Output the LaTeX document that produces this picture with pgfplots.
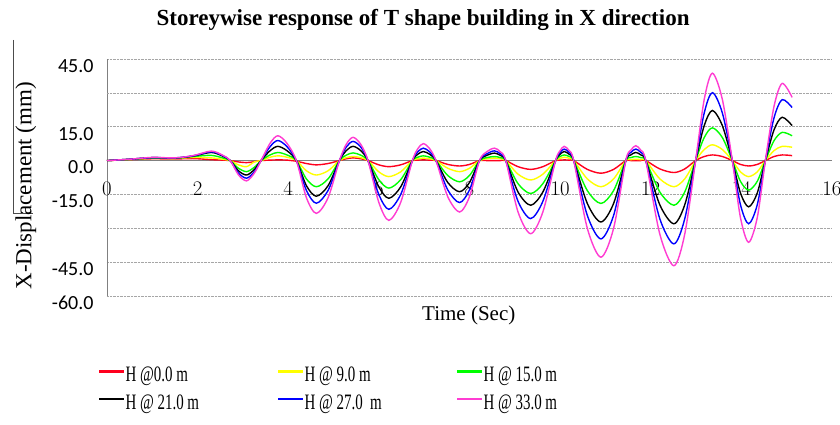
\documentclass[border=0pt]{standalone}
\usepackage{pgfplots}
\pgfplotsset{compat=1.18}
\usepackage{pgfplotstable}
\usepackage{fontspec}
\setmainfont{Liberation Serif}
\newfontfamily\calibri{Carlito}
\newfontfamily\legfont[FakeStretch=0.68]{Liberation Serif}
\definecolor{cRed}{RGB}{255,0,30}
\definecolor{cYel}{RGB}{255,255,0}
\definecolor{cGrn}{RGB}{0,255,0}
\definecolor{cBlk}{RGB}{0,0,0}
\definecolor{cBlu}{RGB}{0,0,255}
\definecolor{cMag}{RGB}{255,60,210}

\pgfplotstableread{
t     r     y     g     k     b     m
0.00  0.0   0.0   0.0   0.0   0.0   0.0
0.50  0.4   0.5   0.5   0.6   0.6   0.6
1.00  0.8   1.0   1.1   1.3   1.3   1.4
1.50  0.7   0.9   1.0   1.1   1.2   1.2
1.90  0.9   1.4   1.8   2.0   2.1   2.2
2.30  0.4   1.2   2.3   3.6   3.9   4.2
2.55  0.2   0.6   1.2   2.0   2.2   2.4
2.72  0.0   0.0   0.0   0.0   0.0   0.0
2.90 -0.6  -1.9  -3.4  -4.5  -5.5  -6.3
3.08 -0.9  -2.7  -4.9  -6.4  -7.8  -9.0
3.25 -0.5  -0.6  -3.0  -4.0  -5.0  -5.6
3.40  0.0   0.0   0.0   0.0   0.0   0.0
3.60  0.2   1.5   2.5   4.4   6.2   7.7
3.77  0.3   2.1   3.6   6.3   8.9  11.0
3.97  0.2   1.5   2.5   4.4   6.2   7.7
4.18 -0.3   0.0   0.0   0.0   0.0   0.0
4.40 -1.3  -4.5  -8.1 -11.1 -13.2 -16.4
4.62 -1.9  -6.4 -11.6 -15.8 -18.9 -23.4
4.88 -1.3  -4.5  -8.1 -11.1 -13.2 -16.4
5.13  0.0   0.0   0.0   0.0   0.0   0.0
5.28  0.8   1.3   2.4   4.4   6.0   7.2
5.43  1.2   1.8   3.4   6.3   8.5  10.3
5.60  0.8   1.3   2.4   4.4   6.0   7.2
5.76  0.0   0.0   0.0   0.0   0.0   0.0
6.00 -1.9  -5.0  -8.5 -11.7 -15.1 -18.6
6.22 -2.7  -7.1 -12.2 -16.7 -21.6 -26.5
6.48 -1.9  -5.0  -8.5 -11.7 -15.1 -18.6
6.74  0.0   0.0   0.0   0.0   0.0   0.0
6.86  0.2   0.8   1.5   2.8   3.9   5.3
6.98  0.3   1.1   2.1   4.0   5.5   7.5
7.12  0.2   0.8   1.5   2.8   3.9   5.3
7.26  0.0   0.0   0.0   0.0   0.0   0.0
7.52 -1.7  -3.4  -6.6  -9.7 -13.0 -16.0
7.78 -2.4  -4.9  -9.4 -13.8 -18.6 -22.8
8.00 -1.7  -3.4  -6.6  -9.7 -13.0 -16.0
8.22  0.0   0.0   0.0   0.0   0.0   0.0
8.38  0.0   0.8   1.3   2.3   3.0   3.9
8.55  0.0   1.1   1.8   3.3   4.3   5.5
8.68  0.0   0.8   1.3   2.3   3.0   3.9
8.80  0.0   0.0   0.0   0.0   0.0   0.0
9.07 -2.7  -6.0 -10.2 -13.9 -18.0 -22.7
9.35 -3.9  -8.6 -14.6 -19.8 -25.7 -32.4
9.62 -2.7  -6.0 -10.2 -13.9 -18.0 -22.7
9.90  0.0   0.0   0.0   0.0   0.0   0.0
10.00 0.2   1.0   1.8   2.8   3.6   4.4
10.09 0.3   1.5   2.5   4.0   5.1   6.3
10.20 0.2   1.0   1.8   2.8   3.6   4.4
10.30 0.0   0.0   0.0   0.0   0.0   0.0
10.60 -3.9 -8.1 -13.3 -19.0 -24.3 -30.0
10.90 -5.6 -11.6 -19.0 -27.2 -34.7 -42.8
11.18 -3.9 -8.1 -13.3 -19.0 -24.3 -30.0
11.45 0.0   0.0   0.0   0.0   0.0   0.0
11.56 0.0   0.4   1.3   2.5   3.6   4.6
11.67 0.0   0.6   1.8   3.6   5.1   6.6
11.78 0.0   0.4   1.3   2.5   3.6   4.6
11.89 0.0   0.0   0.0   0.0   0.0   0.0
12.20 -3.7 -8.1 -13.9 -19.6 -25.8 -32.6
12.51 -5.3 -11.6 -19.8 -28.0 -36.9 -46.6
12.75 -3.7 -8.1 -13.9 -19.6 -25.8 -32.6
12.99 0.0   0.0   0.0   0.0   0.0   0.0
13.18 1.8   4.9  10.2  15.5  21.1  27.1
13.36 2.5   7.0  14.5  22.2  30.1  38.7
13.58 1.8   4.9  10.2  15.5  21.1  27.1
13.80 0.0   0.0   0.0   0.0   0.0   0.0
13.98 -1.7 -5.0  -9.2 -14.4 -19.6 -25.3
14.16 -2.4 -7.1 -13.1 -20.5 -28.0 -36.2
14.35 -1.7 -5.0  -9.2 -14.4 -19.6 -25.3
14.53 0.0   0.0   0.0   0.0   0.0   0.0
14.72 1.8   4.4   8.8  13.6  18.9  24.0
14.90 2.5   6.3  12.5  19.2  27.0  34.2
15.12 2.2   5.9  11.0  15.5  23.5  28.0
}\datatable

\newcommand{\legtxt}[1]{\makebox[150pt][l]{\rule[-11pt]{0pt}{33pt}\legfont #1}}

\begin{document}
\begin{tikzpicture}
\path[use as bounding box] (0,0) rectangle (840pt,424pt);
\fill[white] (0,0) rectangle (840pt,424pt);
\draw[black!70, line width=0.6pt] (13pt,384pt) -- (13pt,211pt) -- (33pt,211pt);
\begin{axis}[
  at={(107pt,128pt)}, anchor=south west,
  scale only axis, width=725pt, height=237pt,
  xmin=0, xmax=16, ymin=-60, ymax=45,
  axis x line=middle, axis y line=left,
  hide obscured x ticks=false, hide obscured y ticks=false,
  axis line style={-, draw=black!50, line width=0.9pt},
  major tick length=0pt,
  xtick={0,2,...,16},
  ytick={-60,-45,-15,0,15,45},
  yticklabels={-60.0,-45.0,-15.0,0.0,15.0,45.0},
  extra y ticks={-30,30}, extra y tick labels={},
  extra y tick style={grid=major},
  ymajorgrids,
  grid style={densely dotted, black!35, line width=0.7pt},
  xticklabel style={font=\calibri\fontsize{20}{24}\selectfont, yshift=-18pt},
  yticklabel style={font=\calibri\fontsize{20}{24}\selectfont, xshift=-10pt, yshift=-7pt},
  title={Storeywise response of T shape building in X direction},
  title style={font=\bfseries\fontsize{23}{27}\selectfont, at={(axis description cs:0.436,1.139)}, anchor=center},
  xlabel={Time (Sec)},
  xlabel style={font=\fontsize{21}{25}\selectfont, at={(axis description cs:0.499,-0.080)}, anchor=center},
  ylabel={X-Displacement (mm)},
  ylabel style={font=\fontsize{23}{27}\selectfont, at={(axis description cs:-0.112,0.465)}, anchor=center},
  legend columns=3,
  legend cell align=left,
  legend style={at={(axis description cs:-0.012,-0.26)}, anchor=north west, draw=none, fill=none,
    font=\fontsize{22}{24}\selectfont, row sep=0pt, column sep=0pt, inner sep=0pt},
  legend image code/.code={\fill[#1, draw=none] (0pt,-1.4pt) rectangle (25pt,1.4pt);},
  every axis plot/.append style={line width=1.4pt, smooth, tension=0.5},
  clip=false,
]
\addplot[cRed] table[x=t,y=r] {\datatable};
\addlegendentry{\legtxt{H @0.0 m}}
\addplot[cYel] table[x=t,y=y] {\datatable};
\addlegendentry{\legtxt{H @ 9.0 m}}
\addplot[cGrn] table[x=t,y=g] {\datatable};
\addlegendentry{\legtxt{H @ 15.0 m}}
\addplot[cBlk] table[x=t,y=k] {\datatable};
\addlegendentry{\legtxt{H @ 21.0 m}}
\addplot[cBlu] table[x=t,y=b] {\datatable};
\addlegendentry{\legtxt{H @ 27.0 \ m}}
\addplot[cMag] table[x=t,y=m] {\datatable};
\addlegendentry{\legtxt{H @ 33.0 m}}
\end{axis}
\end{tikzpicture}
\end{document}
